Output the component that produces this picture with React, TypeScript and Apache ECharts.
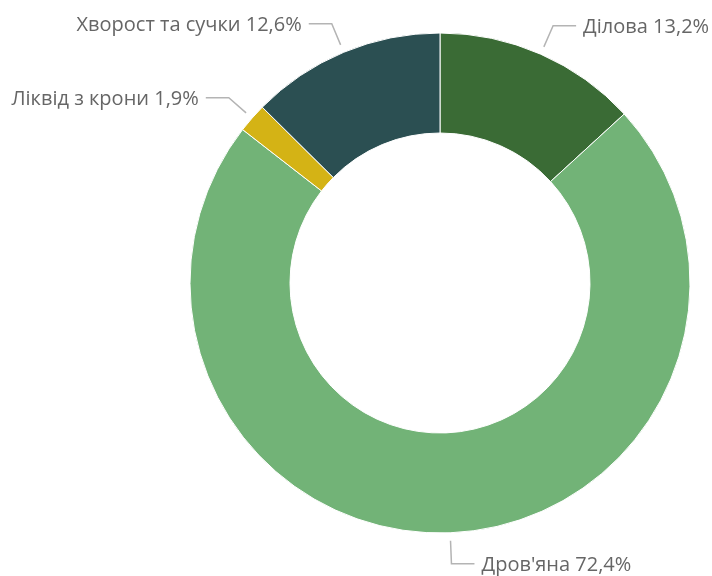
import React, { useEffect, useRef } from "react";
import * as echarts from "echarts";

const categories = ["Ділова", "Дров'яна", "Ліквід з крони", "Хворост та сучки"];
const values = [13.2, 72.4, 1.9, 12.6];
const colors = ["#3a6b35", "#72b377", "#d4b315", "#2b4f52"];

export default function App() {
  const ref = useRef<HTMLDivElement>(null);
  useEffect(() => {
    if (!ref.current) return;
    const chart = echarts.init(ref.current, undefined, { renderer: "svg" });
    const data = categories.map((name, i) => ({
      name,
      value: values[i],
      itemStyle: { color: colors[i] },
    }));
    chart.setOption({
      animation: false,
      series: [
        {
          type: "pie",
          center: [440, 283],
          radius: [150, 250],
          startAngle: 90,
          clockwise: true,
          avoidLabelOverlap: false,
          data,
          itemStyle: { borderColor: "#ffffff", borderWidth: 1 },
          label: {
            show: true,
            position: "outside",
            formatter: (p: any) => `${p.name} ${p.value.toFixed(1).replace(".", ",")}%`,
            color: "#666666",
            fontSize: 20,
            fontFamily: "'Open Sans', 'Noto Sans', sans-serif",
            distanceToLabelLine: 7,
          },
          labelLine: {
            show: true,
            length: 31,
            length2: 23,
            smooth: false,
            lineStyle: { color: "#b4b4b4", width: 1.5 },
          },
          labelLayout: (params: any) => {
            const pts = params.labelLinePoints;
            if (!pts || pts.length < 2) return {};
            const p0 = pts[0];
            const p1 = pts[1];
            const dx = p1[0] - p0[0];
            const dy = p1[1] - p0[1];
            const len = Math.sqrt(dx * dx + dy * dy) || 1;
            const gap = 8;
            const np0 = [p0[0] + (dx / len) * gap, p0[1] + (dy / len) * gap];
            return { labelLinePoints: [np0, p1, pts[2]] };
          },
          emphasis: { disabled: true },
        },
      ],
    });
    return () => chart.dispose();
  }, []);
  return (
    <div
      ref={ref}
      style={{ position: "fixed", left: 0, top: 0, width: 712, height: 576 }}
    />
  );
}
